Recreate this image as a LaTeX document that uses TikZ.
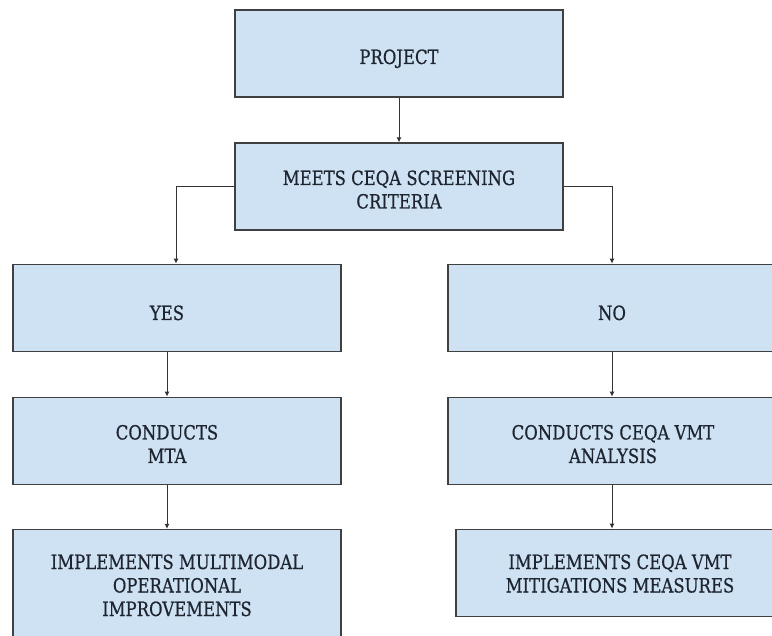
\documentclass[tikz,border=0pt]{standalone}
\usepackage{fontspec}
\setmainfont[FakeStretch=0.84,FakeBold=0.6]{DejaVu Serif}
\usetikzlibrary{arrows.meta}
\definecolor{boxfill}{HTML}{CFE2F3}
\definecolor{boxline}{HTML}{404040}
\definecolor{txt}{HTML}{1E2530}
\begin{document}
\begin{tikzpicture}[x=1pt,y=-1pt,
  box/.style={draw=boxline, fill=boxfill, line width=1.3pt, rectangle, inner sep=0pt},
  lbl/.style={anchor=base, align=center, text=txt, font=\fontsize{19.6}{23.5}\selectfont, inner sep=0pt},
  conn/.style={draw=black!80, line width=0.9pt, -{Latex[length=5pt,width=5pt]}}]
\useasboundingbox (0,0) rectangle (772,636);
\clip (0,0) rectangle (772,636);
\fill[white] (0,0) rectangle (772,636);
% boxes
\node[box, minimum width=328pt, minimum height=87pt] (project) at (399,53.5) {};
\node[box, minimum width=328pt, minimum height=87pt] (meets) at (399,186.5) {};
\node[box, minimum width=328pt, minimum height=87.5pt] (yes) at (177,308) {};
\node[box, minimum width=328pt, minimum height=87.5pt] (no) at (612,308) {};
\node[box, minimum width=328pt, minimum height=87.5pt] (cmta) at (177,441) {};
\node[box, minimum width=328pt, minimum height=87.5pt] (cvmt) at (612,441) {};
\node[box, minimum width=328pt, minimum height=120pt] (imm) at (177,589.5) {};
\node[box, minimum width=328pt, minimum height=87.5pt] (ivmt) at (620,573) {};
% labels (base = baseline of last line)
\node[lbl] (tproject) at (399,64) {PROJECT};
\node[lbl] (tmeets) at (399,208.5) {MEETS CEQA SCREENING\\CRITERIA};
\node[lbl] (tyes) at (167,320) {YES};
\node[lbl] (tno) at (612,320) {NO};
\node[lbl] (tcmta) at (167,463) {CONDUCTS\\MTA};
\node[lbl] (tcvmt) at (613,463) {CONDUCTS CEQA VMT\\ANALYSIS};
\node[lbl] (timm) at (177,616) {IMPLEMENTS MULTIMODAL\\OPERATIONAL\\IMPROVEMENTS};
\node[lbl] (tivmt) at (620,592.5) {IMPLEMENTS CEQA VMT\\MITIGATIONS MEASURES};
% connectors
\draw[conn] (project) -- (meets);
\draw[conn] (meets.west) -| ([xshift=-1pt]yes.north);
\draw[conn] (meets.east) -| (no.north);
\draw[conn] ([xshift=-10pt]yes.south) -- ([xshift=-10pt]cmta.north);
\draw[conn] ([xshift=-10pt]cmta.south) -- ([xshift=-10pt]imm.north);
\draw[conn] (no.south) -- (cvmt.north);
\draw[conn] (cvmt.south) -- ([xshift=-8pt]ivmt.north);
\end{tikzpicture}
\end{document}
